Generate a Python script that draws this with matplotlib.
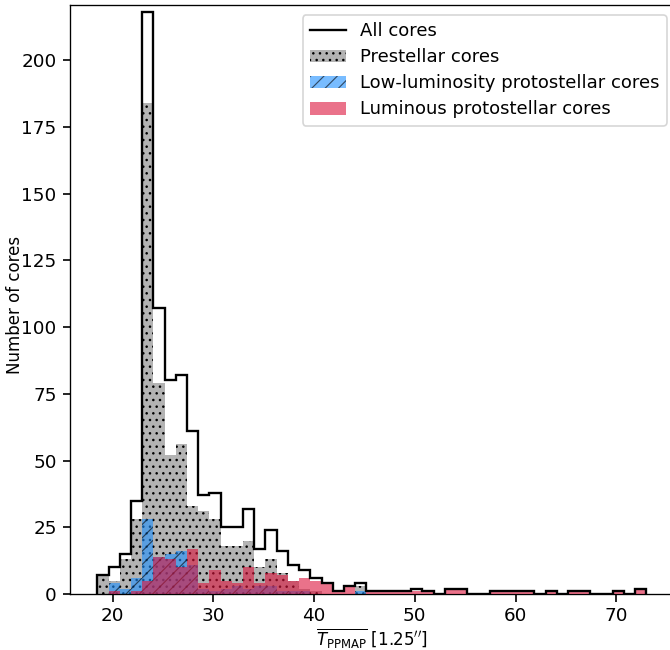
import numpy as np
import matplotlib
matplotlib.use("Agg")
import matplotlib.pyplot as plt
from matplotlib.lines import Line2D
from matplotlib.patches import Patch

# ---- data (counts per bin, 49 bins between 18.5 and 73.0) ----
bin_lo, bin_hi, n_bins = 18.5, 73.0, 49
all_cores = [7, 10, 15, 35, 218, 107, 80, 82, 61, 37,
             38, 25, 25, 32, 17, 24, 16, 11, 9, 6,
             4, 1, 3, 4, 1, 1, 1, 1, 2, 1,
             0, 2, 2, 0, 0, 1, 1, 1, 1, 0,
             1, 0, 1, 1, 0, 0, 1, 0, 2]
prestellar = [7, 5, 13, 28, 184, 79, 52, 56, 33, 31,
              28, 18, 18, 20, 10, 13, 8, 5, 2, 1,
              0, 0, 0, 3, 0, 0, 0, 0, 0, 0,
              0, 0, 0, 0, 0, 0, 0, 0, 0, 0,
              0, 0, 0, 0, 0, 0, 0, 0, 0]
low_lum = [0, 4, 2, 6, 28, 14, 15, 16, 11, 2,
           1, 2, 3, 2, 3, 3, 1, 1, 1, 0,
           0, 0, 0, 1, 0, 0, 0, 0, 0, 0,
           0, 0, 0, 0, 0, 0, 0, 0, 0, 0,
           0, 0, 0, 0, 0, 0, 0, 0, 0]
luminous = [0, 1, 0, 1, 5, 14, 13, 10, 17, 4,
            9, 5, 4, 10, 4, 8, 7, 5, 6, 5,
            4, 1, 3, 0, 1, 1, 1, 1, 1, 1,
            0, 2, 2, 0, 0, 1, 1, 1, 1, 0,
            1, 0, 1, 1, 0, 0, 1, 0, 2]
labels = ["All cores", "Prestellar cores",
          "Low-luminosity protostellar cores", "Luminous protostellar cores"]
xticks = [20, 30, 40, 50, 60, 70]
yticks = [0, 25, 50, 75, 100, 125, 150, 175, 200]

edges = np.linspace(bin_lo, bin_hi, n_bins + 1)
centers = 0.5 * (edges[:-1] + edges[1:])

plt.rcParams['font.family'] = ['DejaVu Sans']
plt.rcParams['hatch.linewidth'] = 0.7
fs_tick = 11
fs_leg = 10.8
fs_lab = 10

DPI = 120
fig = plt.figure(figsize=(670 / DPI, 650 / DPI), dpi=DPI)
# axes: left spine at x=70px, bottom at y=594px; right/top extend beyond crop
ax = fig.add_axes([70 / 670, 56 / 650, 604 / 670, 589 / 650])

grey_c = '#b3b3b3'
ax.hist(centers, bins=edges, weights=prestellar, histtype='stepfilled',
        facecolor=grey_c, edgecolor='black', linewidth=0, hatch='...', zorder=1)
ax.hist(centers, bins=edges, weights=low_lum, histtype='stepfilled',
        color='dodgerblue', alpha=0.6, edgecolor='black', linewidth=0,
        hatch='///', zorder=2)
ax.hist(centers, bins=edges, weights=luminous, histtype='stepfilled',
        color='crimson', alpha=0.6, linewidth=0, zorder=3)
ax.hist(centers, bins=edges, weights=all_cores, histtype='step',
        color='black', linewidth=1.4, zorder=4)

ax.set_xlim(15.78, 75.73)
ax.set_ylim(0, 220.6)
ax.set_xticks(xticks)
ax.set_yticks(yticks)
ax.tick_params(labelsize=fs_tick, length=4.5, width=1.0)
ax.set_xlabel(r'$\overline{T_{\mathrm{PPMAP}}}$ [1.25$^{\prime\prime}$]', fontsize=fs_lab)
ax.set_ylabel('Number of cores', fontsize=fs_lab)
ax.xaxis.set_label_coords(0.5, -0.054)
ax.yaxis.set_label_coords(-0.076, 0.49)

handles = [
    Line2D([], [], color='black', linewidth=1.4),
    Patch(facecolor=grey_c, edgecolor='black', linewidth=0, hatch='...'),
    Patch(facecolor='dodgerblue', alpha=0.6, edgecolor='black', linewidth=0, hatch='///'),
    Patch(facecolor='crimson', alpha=0.6, edgecolor='crimson', linewidth=0),
]
ax.legend(handles, labels, loc='upper right', fontsize=fs_leg,
          labelspacing=0.45,
          bbox_to_anchor=(667 / 670, 635 / 650), bbox_transform=fig.transFigure,
          borderaxespad=0)

fig.savefig('out.png', dpi=DPI)
